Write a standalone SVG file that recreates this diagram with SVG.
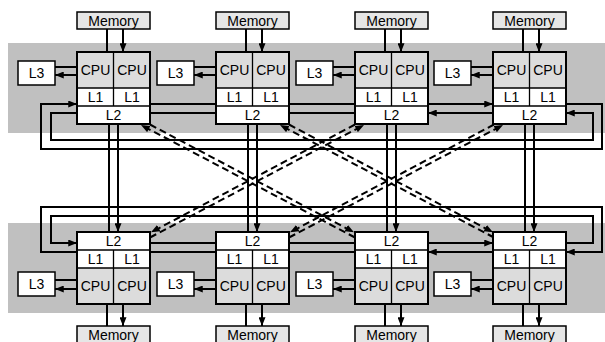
<svg xmlns="http://www.w3.org/2000/svg" width="605" height="342" viewBox="0 0 605 342">
  <defs>
    <marker id="ah" viewBox="0 0 10 8" refX="10" refY="4" markerWidth="9" markerHeight="7" markerUnits="userSpaceOnUse" orient="auto">
      <path d="M0,0 L10,4 L0,8 z" fill="#000"/>
    </marker>
  </defs>
  <style>
    text { font-family: "Liberation Sans", Arial, sans-serif; font-size: 14px; fill: #000; text-anchor: middle; }
    .band { fill: #c0c0c0; }
    .cpu { fill: #dcdcdc; stroke: none; }
    .cache { fill: #fff; stroke: none; }
    .div { fill: none; stroke: #000; stroke-width: 1.3; }
    .frame { fill: none; stroke: #000; stroke-width: 2; }
    .box { fill: #fff; stroke: #000; stroke-width: 1.5; }
    .mem { fill: #e6e6e6; stroke: #000; stroke-width: 1.5; }
    .link { fill: none; stroke: #000; stroke-width: 2; marker-end: url(#ah); }
    .ring { fill: none; stroke: #000; stroke-width: 2; stroke-linejoin: miter; }
    .dash { fill: none; stroke: #000; stroke-width: 2; stroke-dasharray: 7 4; marker-end: url(#ah); }
  </style>

  <!-- shaded rows -->
  <rect class="band" x="8" y="43" width="597" height="90"/>
  <rect class="band" x="8" y="223" width="597" height="90"/>

  <!-- connectors -->
  <g id="connectors">
    <!-- memory links, top row -->
    <path class="link" d="M107 52V29M123 29V52"/>
    <path class="link" d="M246 52V29M262 29V52"/>
    <path class="link" d="M385 52V29M401 29V52"/>
    <path class="link" d="M523 52V29M539 29V52"/>
    <!-- memory links, bottom row -->
    <path class="link" d="M107 326V304M123 304V326"/>
    <path class="link" d="M246 326V304M262 304V326"/>
    <path class="link" d="M385 326V304M401 304V326"/>
    <path class="link" d="M523 326V304M539 304V326"/>
    <!-- L3 links, top row -->
    <path class="link" d="M55 67H77M77 75H55"/>
    <path class="link" d="M194 67H216M216 75H194"/>
    <path class="link" d="M333 67H355M355 75H333"/>
    <path class="link" d="M471 67H493M493 75H471"/>
    <!-- L3 links, bottom row -->
    <path class="link" d="M55 280H77M77 289H55"/>
    <path class="link" d="M194 280H216M216 289H194"/>
    <path class="link" d="M333 280H355M355 289H333"/>
    <path class="link" d="M471 280H493M493 289H471"/>
    <!-- vertical links between rows -->
    <path class="link" d="M109 232V124M118 124V232"/>
    <path class="link" d="M248 232V124M257 124V232"/>
    <path class="link" d="M387 232V124M396 124V232"/>
    <path class="link" d="M525 232V124M534 124V232"/>
    <!-- top ring -->
    <path class="link" d="M150 104H216M289 104H355M428 104H493"/>
    <path class="link" d="M216 113H150M355 113H289M493 113H428"/>
    <path class="ring" d="M566 104H602V149H41V104H77" marker-end="url(#ah)"/>
    <path class="ring" d="M77 113H51V140H593V113H566" marker-end="url(#ah)"/>
    <!-- bottom ring -->
    <path class="link" d="M150 243H216M289 243H355M428 243H493"/>
    <path class="link" d="M216 252H150M355 252H289M493 252H428"/>
    <path class="ring" d="M566 243H593V216H51V243H77" marker-end="url(#ah)"/>
    <path class="ring" d="M77 252H41V207H602V252H566" marker-end="url(#ah)"/>
    <!-- diagonal links -->
    <path class="dash" d="M150 124.5L354 232.3"/>
    <path class="dash" d="M355 237.5L141 125"/>
    <path class="dash" d="M355 124.5L151 232.3"/>
    <path class="dash" d="M150 237.5L364 125"/>
    <path class="dash" d="M289 124.5L493 232.3"/>
    <path class="dash" d="M494 237.5L280 125"/>
    <path class="dash" d="M494 124.5L290 232.3"/>
    <path class="dash" d="M289 237.5L503 125"/>
  </g>

  <!-- memories -->
  <g id="mem-t1"><rect class="mem" x="77" y="12" width="73" height="17"/><text x="113.5" y="26">Memory</text></g>
  <g id="mem-t2"><rect class="mem" x="216" y="12" width="73" height="17"/><text x="252.5" y="26">Memory</text></g>
  <g id="mem-t3"><rect class="mem" x="355" y="12" width="73" height="17"/><text x="391.5" y="26">Memory</text></g>
  <g id="mem-t4"><rect class="mem" x="493" y="12" width="73" height="17"/><text x="529.5" y="26">Memory</text></g>
  <g id="mem-b1"><rect class="mem" x="77" y="326" width="73" height="18"/><text x="113.5" y="340">Memory</text></g>
  <g id="mem-b2"><rect class="mem" x="216" y="326" width="73" height="18"/><text x="252.5" y="340">Memory</text></g>
  <g id="mem-b3"><rect class="mem" x="355" y="326" width="73" height="18"/><text x="391.5" y="340">Memory</text></g>
  <g id="mem-b4"><rect class="mem" x="493" y="326" width="73" height="18"/><text x="529.5" y="340">Memory</text></g>

  <!-- L3 caches -->
  <g id="l3-t1"><rect class="box" x="18" y="61" width="37" height="24"/><text x="36.5" y="78">L3</text></g>
  <g id="l3-t2"><rect class="box" x="157" y="61" width="37" height="24"/><text x="175.5" y="78">L3</text></g>
  <g id="l3-t3"><rect class="box" x="296" y="61" width="37" height="24"/><text x="314.5" y="78">L3</text></g>
  <g id="l3-t4"><rect class="box" x="434" y="61" width="37" height="24"/><text x="452.5" y="78">L3</text></g>
  <g id="l3-b1"><rect class="box" x="18" y="272" width="37" height="24"/><text x="36.5" y="289">L3</text></g>
  <g id="l3-b2"><rect class="box" x="157" y="272" width="37" height="24"/><text x="175.5" y="289">L3</text></g>
  <g id="l3-b3"><rect class="box" x="296" y="272" width="37" height="24"/><text x="314.5" y="289">L3</text></g>
  <g id="l3-b4"><rect class="box" x="434" y="272" width="37" height="24"/><text x="452.5" y="289">L3</text></g>

  <!-- chips, top row -->
  <g id="chip-t1">
    <rect class="cpu" x="77" y="52" width="73" height="36"/>
    <rect class="cache" x="77" y="88" width="73" height="36"/>
    <path class="div" d="M77 88H150M77 106H150M113.5 52V106"/>
    <rect class="frame" x="77" y="52" width="73" height="72"/>
    <text x="95.5" y="75">CPU</text><text x="132" y="75">CPU</text>
    <text x="95.5" y="102">L1</text><text x="132" y="102">L1</text>
    <text x="113.5" y="120">L2</text>
  </g>
  <g id="chip-t2">
    <rect class="cpu" x="216" y="52" width="73" height="36"/>
    <rect class="cache" x="216" y="88" width="73" height="36"/>
    <path class="div" d="M216 88H289M216 106H289M252.5 52V106"/>
    <rect class="frame" x="216" y="52" width="73" height="72"/>
    <text x="234.5" y="75">CPU</text><text x="271" y="75">CPU</text>
    <text x="234.5" y="102">L1</text><text x="271" y="102">L1</text>
    <text x="252.5" y="120">L2</text>
  </g>
  <g id="chip-t3">
    <rect class="cpu" x="355" y="52" width="73" height="36"/>
    <rect class="cache" x="355" y="88" width="73" height="36"/>
    <path class="div" d="M355 88H428M355 106H428M391.5 52V106"/>
    <rect class="frame" x="355" y="52" width="73" height="72"/>
    <text x="373.5" y="75">CPU</text><text x="410" y="75">CPU</text>
    <text x="373.5" y="102">L1</text><text x="410" y="102">L1</text>
    <text x="391.5" y="120">L2</text>
  </g>
  <g id="chip-t4">
    <rect class="cpu" x="493" y="52" width="73" height="36"/>
    <rect class="cache" x="493" y="88" width="73" height="36"/>
    <path class="div" d="M493 88H566M493 106H566M529.5 52V106"/>
    <rect class="frame" x="493" y="52" width="73" height="72"/>
    <text x="511.5" y="75">CPU</text><text x="548" y="75">CPU</text>
    <text x="511.5" y="102">L1</text><text x="548" y="102">L1</text>
    <text x="529.5" y="120">L2</text>
  </g>

  <!-- chips, bottom row -->
  <g id="chip-b1">
    <rect class="cache" x="77" y="232" width="73" height="36"/>
    <rect class="cpu" x="77" y="268" width="73" height="36"/>
    <path class="div" d="M77 250H150M77 268H150M113.5 250V304"/>
    <rect class="frame" x="77" y="232" width="73" height="72"/>
    <text x="113.5" y="246">L2</text>
    <text x="95.5" y="264">L1</text><text x="132" y="264">L1</text>
    <text x="95.5" y="291">CPU</text><text x="132" y="291">CPU</text>
  </g>
  <g id="chip-b2">
    <rect class="cache" x="216" y="232" width="73" height="36"/>
    <rect class="cpu" x="216" y="268" width="73" height="36"/>
    <path class="div" d="M216 250H289M216 268H289M252.5 250V304"/>
    <rect class="frame" x="216" y="232" width="73" height="72"/>
    <text x="252.5" y="246">L2</text>
    <text x="234.5" y="264">L1</text><text x="271" y="264">L1</text>
    <text x="234.5" y="291">CPU</text><text x="271" y="291">CPU</text>
  </g>
  <g id="chip-b3">
    <rect class="cache" x="355" y="232" width="73" height="36"/>
    <rect class="cpu" x="355" y="268" width="73" height="36"/>
    <path class="div" d="M355 250H428M355 268H428M391.5 250V304"/>
    <rect class="frame" x="355" y="232" width="73" height="72"/>
    <text x="391.5" y="246">L2</text>
    <text x="373.5" y="264">L1</text><text x="410" y="264">L1</text>
    <text x="373.5" y="291">CPU</text><text x="410" y="291">CPU</text>
  </g>
  <g id="chip-b4">
    <rect class="cache" x="493" y="232" width="73" height="36"/>
    <rect class="cpu" x="493" y="268" width="73" height="36"/>
    <path class="div" d="M493 250H566M493 268H566M529.5 250V304"/>
    <rect class="frame" x="493" y="232" width="73" height="72"/>
    <text x="529.5" y="246">L2</text>
    <text x="511.5" y="264">L1</text><text x="548" y="264">L1</text>
    <text x="511.5" y="291">CPU</text><text x="548" y="291">CPU</text>
  </g>
</svg>
